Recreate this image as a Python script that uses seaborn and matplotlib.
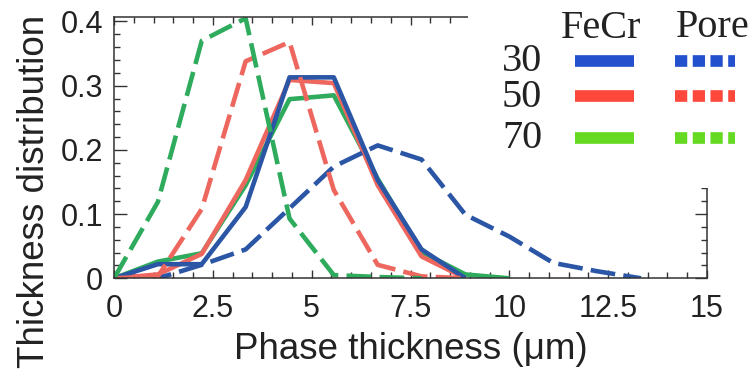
import numpy as np
import pandas as pd
import matplotlib
matplotlib.use("Agg")
import matplotlib.pyplot as plt
from matplotlib.lines import Line2D
from matplotlib.patches import Rectangle
from matplotlib.ticker import MultipleLocator, FuncFormatter
import seaborn as sns

# Bin positions (µm) and thickness distributions for each Cr content
thickness = [0.0, 1.11, 2.22, 3.33, 4.44, 5.56, 6.67, 7.78, 8.89, 10.0, 11.11, 12.22, 13.33]
compositions = ["30", "50", "70"]

fecr_30 = [0.0, 0.022, 0.022, 0.111, 0.313, 0.313, 0.153, 0.045, 0.0]
fecr_50 = [0.0, 0.006, 0.038, 0.153, 0.309, 0.304, 0.145, 0.034, 0.0]
fecr_70 = [0.0, 0.026, 0.039, 0.145, 0.279, 0.285, 0.155, 0.041, 0.006, 0.0]

pore_30 = [0.0, 0.0, 0.021, 0.045, 0.109, 0.174, 0.207, 0.185, 0.099, 0.065, 0.024, 0.011, 0.0]
pore_50 = [0.0, 0.003, 0.108, 0.338, 0.368, 0.1375, 0.021, 0.003, 0.0]
pore_70 = [0.0, 0.119, 0.370, 0.405, 0.093, 0.005, 0.002, 0.0]

line_colors = {"30": "#2b55a5", "50": "#ee675f", "70": "#2eab5c"}
key_colors = {"30": "#2350cc", "50": "#ff483c", "70": "#66d922"}


def long_form(phase, series):
    rows = []
    for comp, vals in zip(compositions, series):
        for x, y in zip(thickness, vals):
            rows.append({"thickness": x, "distribution": y, "composition": comp, "phase": phase})
    return pd.DataFrame(rows)


fecr = long_form("FeCr", [fecr_30, fecr_50, fecr_70])
pore = long_form("Pore", [pore_30, pore_50, pore_70])

sns.set_theme(style="white")
plt.rcParams["font.family"] = ["Liberation Sans", "DejaVu Sans"]
plt.rcParams["text.color"] = "#222222"
plt.rcParams["axes.labelcolor"] = "#222222"
plt.rcParams["xtick.color"] = "#333333"
plt.rcParams["ytick.color"] = "#333333"
plt.rcParams["xtick.labelcolor"] = "#222222"
plt.rcParams["ytick.labelcolor"] = "#222222"

W, H = 753, 369
fig = plt.figure(figsize=(W / 100, H / 100), dpi=100)
ax = fig.add_axes([114 / W, 1 - 278.3 / H, 593 / W, 261.3 / H])

order = ["70", "50", "30"]
sns.lineplot(data=fecr, x="thickness", y="distribution", hue="composition",
             hue_order=order, palette=line_colors, lw=3.3, errorbar=None,
             legend=False, ax=ax, solid_capstyle="butt")
sns.lineplot(data=pore, x="thickness", y="distribution", hue="composition",
             hue_order=["30", "50", "70"], palette=line_colors, style="phase",
             dashes={"Pore": (5.4, 1.8)}, lw=3.3, errorbar=None,
             legend=False, ax=ax, dash_capstyle="butt")

ax.set_xlim(0, 15)
ax.set_ylim(0, 0.407)
ax.xaxis.set_major_locator(MultipleLocator(2.5))
ax.xaxis.set_minor_locator(MultipleLocator(0.5))
ax.yaxis.set_major_locator(MultipleLocator(0.1))
ax.yaxis.set_minor_locator(MultipleLocator(0.02))
fmt = FuncFormatter(lambda v, p: f"{v:g}")
ax.xaxis.set_major_formatter(fmt)
ax.yaxis.set_major_formatter(fmt)

ax.tick_params(which="both", direction="in", bottom=True, top=True,
               left=True, right=True, width=1.0, color="#333333")
ax.tick_params(axis="x", which="major", length=5.5, pad=11.5, labelsize=22)
ax.tick_params(axis="x", which="minor", length=4.5)
ax.tick_params(axis="y", which="major", length=9, pad=8, labelsize=22)
ax.tick_params(axis="y", which="minor", length=4.5)
for s in ax.spines.values():
    s.set_color("#333333")
    s.set_linewidth(1.1)

ax.set_xlabel("Phase thickness (μm)", fontsize=26.5)
ax.set_ylabel("Thickness distribution", fontsize=26.5)
ax.xaxis.set_label_coords(0.5, -0.205)
ax.yaxis.set_label_coords(-0.104, 0.334)


def fx(px):
    return px / W


def fy(py):
    return 1 - py / H


# Key panel in the upper right corner
fig.patches.append(Rectangle((fx(468), fy(188)), 1, 1, transform=fig.transFigure,
                             facecolor="white", edgecolor="none", zorder=3))
serif = ["Liberation Serif", "DejaVu Serif"]
fig.text(fx(561), fy(37.5), "FeCr", fontsize=29, family=serif, ha="left",
         va="baseline", zorder=4)
fig.text(fx(676), fy(37), "Pore", fontsize=29, family=serif, ha="left",
         va="baseline", zorder=4)
rows = [("30", 71, 60.8), ("50", 106.7, 96), ("70", 147.7, 137.5)]
for comp, base, ly in rows:
    fig.text(fx(502), fy(base), comp, fontsize=29, family=serif, ha="left",
             va="baseline", zorder=4)
    fig.lines.append(Line2D([fx(575), fx(634)], [fy(ly), fy(ly)],
                            transform=fig.transFigure, color=key_colors[comp],
                            lw=8.4, solid_capstyle="butt", zorder=4))
    fig.lines.append(Line2D([fx(675), fx(735)], [fy(ly), fy(ly)],
                            transform=fig.transFigure, color=key_colors[comp],
                            lw=8.4, dashes=(1.05, 0.47), dash_capstyle="butt",
                            zorder=4))

fig.savefig("out.png", dpi=100)
